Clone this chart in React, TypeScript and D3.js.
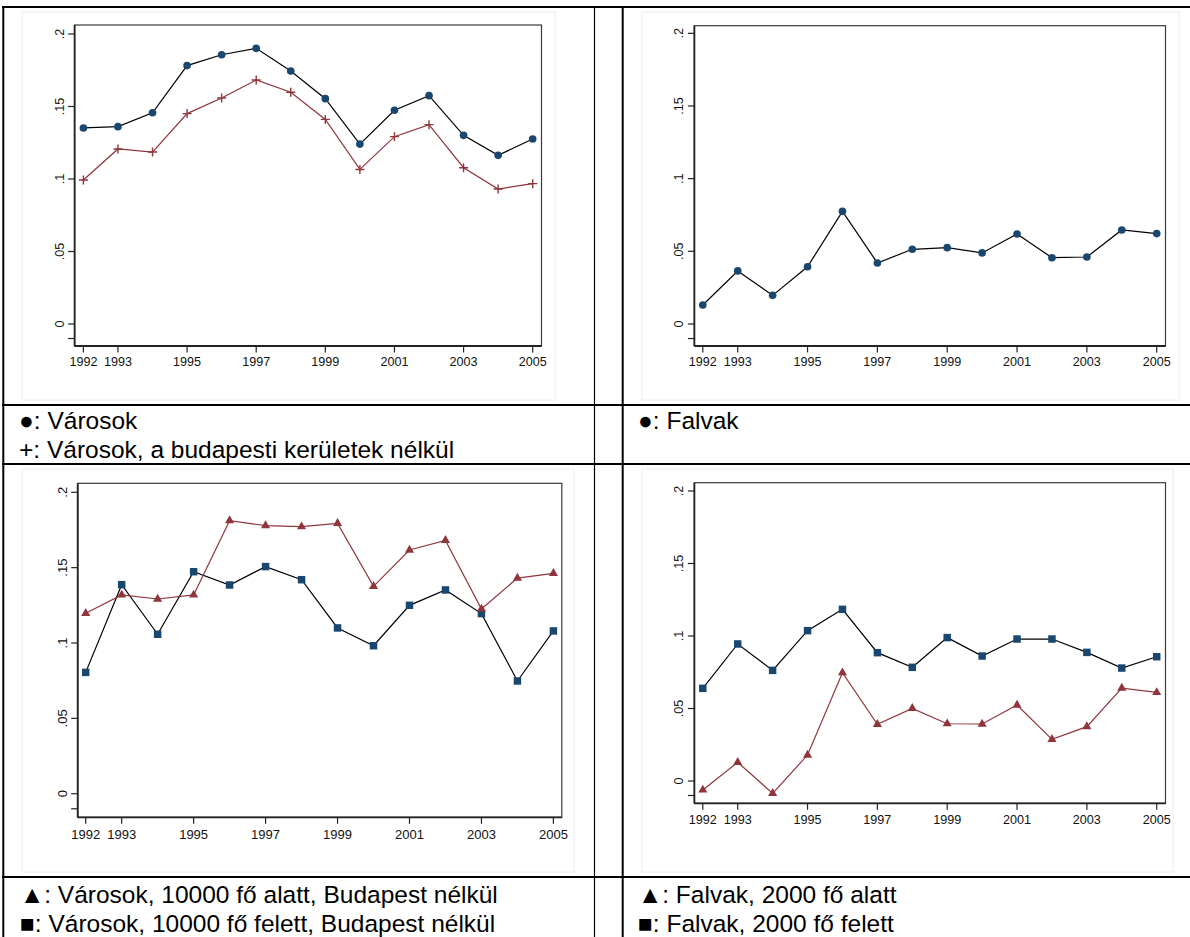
import React from "react";
import * as d3 from "d3";

// ---------- data ----------
const years = [1992, 1993, 1994, 1995, 1996, 1997, 1998, 1999, 2000, 2001, 2002, 2003, 2004, 2005];
const xTickYears = [1992, 1993, 1995, 1997, 1999, 2001, 2003, 2005];
const yTicks = [0, 0.05, 0.1, 0.15, 0.2];
const yTickLabels = ["0", ".05", ".1", ".15", ".2"];
const yMinorTicks = [-0.01];

// top-left
const varosok = [0.1352, 0.1361, 0.1457, 0.1782, 0.1857, 0.1901, 0.1745, 0.1554, 0.1241, 0.1474, 0.1575, 0.1301, 0.1163, 0.1276];
const varosokNoBp = [0.0993, 0.1207, 0.1186, 0.1451, 0.1559, 0.1683, 0.1598, 0.1411, 0.1066, 0.1292, 0.1375, 0.1078, 0.0931, 0.0968];
// top-right
const falvak = [0.0131, 0.0365, 0.0197, 0.0394, 0.0775, 0.0420, 0.0514, 0.0525, 0.0489, 0.0619, 0.0456, 0.0461, 0.0647, 0.0622];
// bottom-left
const varosokAlatt = [0.1197, 0.1319, 0.1292, 0.1319, 0.1812, 0.1779, 0.1772, 0.1794, 0.1376, 0.1617, 0.1681, 0.1226, 0.1431, 0.1462];
const varosokFelett = [0.0805, 0.1387, 0.1058, 0.1473, 0.1385, 0.1507, 0.1420, 0.1100, 0.0982, 0.1250, 0.1352, 0.1195, 0.0748, 0.1080];
// bottom-right
const falvakAlatt = [-0.0062, 0.0129, -0.0085, 0.0179, 0.0747, 0.0391, 0.0501, 0.0395, 0.0393, 0.0524, 0.0287, 0.0375, 0.0641, 0.0611];
const falvakFelett = [0.0639, 0.0945, 0.0763, 0.1037, 0.1184, 0.0885, 0.0784, 0.0989, 0.0862, 0.0979, 0.0979, 0.0887, 0.0779, 0.0857];

const legendTL = ["●: Városok", "+: Városok, a budapesti kerületek nélkül"];
const legendTR = ["●: Falvak"];
const legendBL = ["▲: Városok, 10000 fő alatt, Budapest nélkül", "■: Városok, 10000 fő felett, Budapest nélkül"];
const legendBR = ["▲: Falvak, 2000 fő alatt", "■: Falvak, 2000 fő felett"];

// ---------- styles ----------
const NAVY = "#1a476f";
const MAROON = "#90353b";
const FONT = "'Liberation Sans', Arial, Helvetica, sans-serif";

type Marker = "circle" | "plus" | "square" | "triangle";
type Series = { values: number[]; marker: Marker; line: string; fill: string };

type PanelCfg = {
  left: number; right: number; top: number; bottom: number;
  x0: number; x1: number; y0: number; y1: number;
  fs: number; labelY: number; region: [number, number, number, number];
};

const panels: { cfg: PanelCfg; series: Series[] }[] = [
  {
    cfg: { left: 74.6, right: 541.5, top: 25, bottom: 346, x0: 83.4, x1: 532.7, y0: 324, y1: 34, fs: 12.6, labelY: 366, region: [22, 12, 555, 400] },
    series: [
      { values: varosok, marker: "circle", line: "#000", fill: NAVY },
      { values: varosokNoBp, marker: "plus", line: MAROON, fill: MAROON },
    ],
  },
  {
    cfg: { left: 694.4, right: 1165.5, top: 25.7, bottom: 346, x0: 702.8, x1: 1156.7, y0: 324, y1: 33.3, fs: 12.6, labelY: 366, region: [642, 12, 1179, 400] },
    series: [{ values: falvak, marker: "circle", line: "#000", fill: NAVY }],
  },
  {
    cfg: { left: 77.7, right: 561.8, top: 483.3, bottom: 817.3, x0: 85.7, x1: 553.4, y0: 793.7, y1: 492.3, fs: 13, labelY: 839, region: [22, 469, 574, 872] },
    series: [
      { values: varosokFelett, marker: "square", line: "#000", fill: NAVY },
      { values: varosokAlatt, marker: "triangle", line: MAROON, fill: MAROON },
    ],
  },
  {
    cfg: { left: 694.4, right: 1165.5, top: 482.7, bottom: 803.3, x0: 702.8, x1: 1156.7, y0: 781, y1: 491, fs: 12.6, labelY: 824, region: [642, 469, 1173, 872] },
    series: [
      { values: falvakFelett, marker: "square", line: "#000", fill: NAVY },
      { values: falvakAlatt, marker: "triangle", line: MAROON, fill: MAROON },
    ],
  },
];

function markerEl(m: Marker, cx: number, cy: number, fill: string, key: string) {
  if (m === "plus") {
    return (
      <path key={key} d={`M${cx - 4.5},${cy}H${cx + 4.5}M${cx},${cy - 4.5}V${cy + 4.5}`} stroke={fill} strokeWidth={1.4} fill="none" />
    );
  }
  const type = m === "circle" ? d3.symbolCircle : m === "square" ? d3.symbolSquare : d3.symbolTriangle;
  const size = m === "circle" ? 46 : m === "square" ? 56 : 36;
  const p = d3.symbol().type(type).size(size)() as string;
  return <path key={key} d={p} transform={`translate(${cx},${cy})`} fill={fill} />;
}

function Panel({ cfg, series }: { cfg: PanelCfg; series: Series[] }) {
  const x = d3.scaleLinear().domain([1992, 2005]).range([cfg.x0, cfg.x1]);
  const y = d3.scaleLinear().domain([0, 0.2]).range([cfg.y0, cfg.y1]);
  const [rx1, ry1, rx2, ry2] = cfg.region;
  return (
    <g>
      <rect x={rx1} y={ry1} width={rx2 - rx1} height={ry2 - ry1} fill="none" stroke="#ececec" strokeWidth={1} />
      {series.map((s, si) => {
        const line = d3.line<number>().x((_, i) => x(years[i])).y((v) => y(v));
        return (
          <g key={si}>
            <path d={line(s.values) as string} fill="none" stroke={s.line} strokeWidth={1.2} />
            {s.values.map((v, i) => markerEl(s.marker, x(years[i]), y(v), s.fill, `${si}-${i}`))}
          </g>
        );
      })}
      <rect x={cfg.left} y={cfg.top} width={cfg.right - cfg.left} height={cfg.bottom - cfg.top} fill="none" stroke="#3a3a3a" strokeWidth={1.2} />
      <line x1={cfg.left} x2={cfg.left} y1={cfg.top} y2={cfg.bottom} stroke="#222" strokeWidth={1.8} />
      <line x1={cfg.left} x2={cfg.right} y1={cfg.bottom} y2={cfg.bottom} stroke="#222" strokeWidth={1.8} />
      {yTicks.map((t, i) => (
        <g key={`yt${i}`}>
          <line x1={cfg.left - 6.5} x2={cfg.left} y1={y(t)} y2={y(t)} stroke="#222" strokeWidth={1.2} />
          <text
            transform={`translate(${cfg.left - 11},${y(t)}) rotate(-90)`}
            textAnchor="middle"
            fontSize={cfg.fs}
            fontFamily={FONT}
            fill="#111"
          >
            {yTickLabels[i]}
          </text>
        </g>
      ))}
      {yMinorTicks.map((t, i) => (
        <line key={`ym${i}`} x1={cfg.left - 6.5} x2={cfg.left} y1={y(t)} y2={y(t)} stroke="#222" strokeWidth={1.2} />
      ))}
      {xTickYears.map((yr) => (
        <g key={`xt${yr}`}>
          <line x1={x(yr)} x2={x(yr)} y1={cfg.bottom} y2={cfg.bottom + 6.5} stroke="#222" strokeWidth={1.2} />
          <text x={x(yr)} y={cfg.labelY} textAnchor="middle" fontSize={cfg.fs} fontFamily={FONT} fill="#111">
            {yr}
          </text>
        </g>
      ))}
    </g>
  );
}

function Legend({ lines, x, y0, dy }: { lines: string[]; x: number; y0: number; dy: number }) {
  return (
    <g>
      {lines.map((t, i) => (
        <text key={i} x={x} y={y0 + i * dy} fontSize={24.5} fontFamily={FONT} fill="#000">
          {t}
        </text>
      ))}
    </g>
  );
}

export default function App() {
  const W = 1190;
  const H = 937;
  return (
    <div style={{ position: "absolute", left: 0, top: 0 }}>
      <svg width={W} height={H} viewBox={`0 0 ${W} ${H}`} style={{ display: "block", background: "#fff" }}>
        <rect x={0} y={0} width={W} height={H} fill="#fff" />
        {panels.map((p, i) => (
          <Panel key={i} cfg={p.cfg} series={p.series} />
        ))}
        <Legend lines={legendTL} x={19} y0={429} dy={29} />
        <Legend lines={legendTR} x={638} y0={429} dy={29} />
        <Legend lines={legendBL} x={20} y0={903} dy={28.5} />
        <Legend lines={legendBR} x={638} y0={903} dy={28.5} />
        {/* table grid */}
        <g stroke="#000">
          <line x1={2} x2={W} y1={7} y2={7} strokeWidth={2.2} />
          <line x1={2} x2={W} y1={405} y2={405} strokeWidth={2} />
          <line x1={2} x2={W} y1={464} y2={464} strokeWidth={2} />
          <line x1={2} x2={W} y1={877} y2={877} strokeWidth={2} />
          <line x1={3.3} x2={3.3} y1={6} y2={H} strokeWidth={2} />
          <line x1={594.5} x2={594.5} y1={6} y2={H} strokeWidth={1.2} />
          <line x1={622.7} x2={622.7} y1={6} y2={H} strokeWidth={2} />
        </g>
      </svg>
    </div>
  );
}
